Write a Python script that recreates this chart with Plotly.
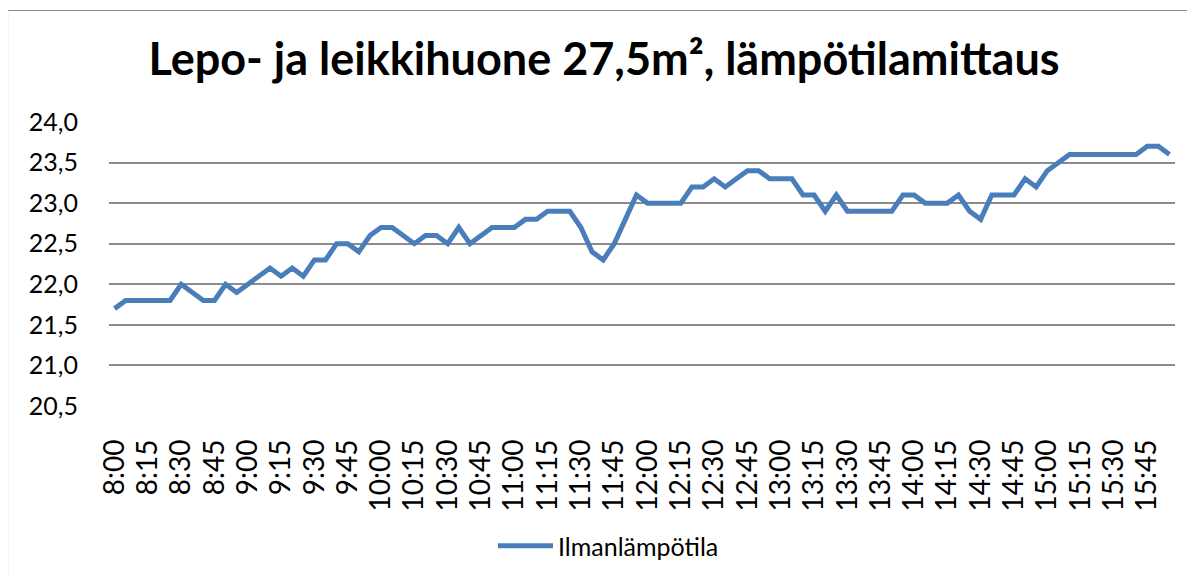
import plotly.graph_objects as go

title_text = "Lepo- ja leikkihuone 27,5m², lämpötilamittaus"
series_name = "Ilmanlämpötila"

times = [
    "8:00", "8:05", "8:10", "8:15", "8:20", "8:25", "8:30", "8:35", "8:40", "8:45", "8:50", "8:55",
    "9:00", "9:05", "9:10", "9:15", "9:20", "9:25", "9:30", "9:35", "9:40", "9:45", "9:50", "9:55",
    "10:00", "10:05", "10:10", "10:15", "10:20", "10:25", "10:30", "10:35", "10:40", "10:45", "10:50", "10:55",
    "11:00", "11:05", "11:10", "11:15", "11:20", "11:25", "11:30", "11:35", "11:40", "11:45", "11:50", "11:55",
    "12:00", "12:05", "12:10", "12:15", "12:20", "12:25", "12:30", "12:35", "12:40", "12:45", "12:50", "12:55",
    "13:00", "13:05", "13:10", "13:15", "13:20", "13:25", "13:30", "13:35", "13:40", "13:45", "13:50", "13:55",
    "14:00", "14:05", "14:10", "14:15", "14:20", "14:25", "14:30", "14:35", "14:40", "14:45", "14:50", "14:55",
    "15:00", "15:05", "15:10", "15:15", "15:20", "15:25", "15:30", "15:35", "15:40", "15:45", "15:50", "15:55",
]

temperature = [
    21.7, 21.8, 21.8, 21.8, 21.8, 21.8, 22.0, 21.9, 21.8, 21.8, 22.0, 21.9,
    22.0, 22.1, 22.2, 22.1, 22.2, 22.1, 22.3, 22.3, 22.5, 22.5, 22.4, 22.6,
    22.7, 22.7, 22.6, 22.5, 22.6, 22.6, 22.5, 22.7, 22.5, 22.6, 22.7, 22.7,
    22.7, 22.8, 22.8, 22.9, 22.9, 22.9, 22.7, 22.4, 22.3, 22.5, 22.8, 23.1,
    23.0, 23.0, 23.0, 23.0, 23.2, 23.2, 23.3, 23.2, 23.3, 23.4, 23.4, 23.3,
    23.3, 23.3, 23.1, 23.1, 22.9, 23.1, 22.9, 22.9, 22.9, 22.9, 22.9, 23.1,
    23.1, 23.0, 23.0, 23.0, 23.1, 22.9, 22.8, 23.1, 23.1, 23.1, 23.3, 23.2,
    23.4, 23.5, 23.6, 23.6, 23.6, 23.6, 23.6, 23.6, 23.6, 23.7, 23.7, 23.6,
]

tick_labels = times[::3]
y_ticks = [20.5, 21.0, 21.5, 22.0, 22.5, 23.0, 23.5, 24.0]

# the page body has an 8px margin, so figure coordinates = image coordinates - 8
OFF = 8
W, H = 1195 - OFF, 578 - OFF
L, R, T, B = 109 - OFF, 1175 - OFF, 122 - OFF, 406 - OFF
PW, PH = R - L, B - T

FONT = "Lato"
LINE_COLOR = "#4A7EBB"
GRID_COLOR = "#8C8C8C"

fig = go.Figure()
fig.add_trace(go.Scatter(
    x=times, y=temperature, mode="lines", name=series_name,
    line=dict(color=LINE_COLOR, width=5),
))

fig.update_layout(
    width=W, height=H,
    margin=dict(l=L, r=W - R, t=T, b=H - B, autoexpand=False),
    paper_bgcolor="white", plot_bgcolor="white",
    separators=", ",
    font=dict(family=FONT, color="black"),
    title=dict(
        text="<b>" + title_text + "</b>",
        font=dict(family=FONT, size=45, color="black"),
        x=(604 - OFF) / W, xref="container", xanchor="center",
        y=1 - (59 - OFF) / H, yref="container", yanchor="middle",
    ),
    showlegend=True,
    legend=dict(
        orientation="h", x=((498 - OFF - 5) - L) / PW, xref="paper",
        y=-((546 - OFF) - B) / PH, yanchor="middle", xanchor="left",
        font=dict(family=FONT, size=25, color="black"),
        itemwidth=55, bgcolor="rgba(0,0,0,0)",
    ),
    xaxis=dict(
        type="category", range=[-0.5, len(times) - 0.5],
        tickmode="array", tickvals=tick_labels, ticktext=tick_labels,
        tickangle=-90, showgrid=False, ticks="",
        showline=False, zeroline=False,
        tickfont=dict(family=FONT, size=28, color="black"),
        ticklabelstandoff=27,
    ),
    yaxis=dict(
        range=[20.5, 24.0], tickvals=y_ticks, tickformat=".1f",
        showgrid=True, gridcolor=GRID_COLOR, gridwidth=1.5,
        zeroline=False, showline=False, ticks="",
        tickfont=dict(family=FONT, size=25, color="black"),
        ticklabelstandoff=30,
    ),
    shapes=[
        dict(type="rect", xref="paper", yref="paper",
             x0=((7.5 - OFF) - L) / PW, x1=((1220 - OFF) - L) / PW,
             y0=(B - (600 - OFF)) / PH, y1=(B - (10.5 - OFF)) / PH,
             line=dict(color="#8C8C8C", width=1.2), fillcolor="rgba(0,0,0,0)", layer="below"),
    ],
)

fig.write_html("out.html")
